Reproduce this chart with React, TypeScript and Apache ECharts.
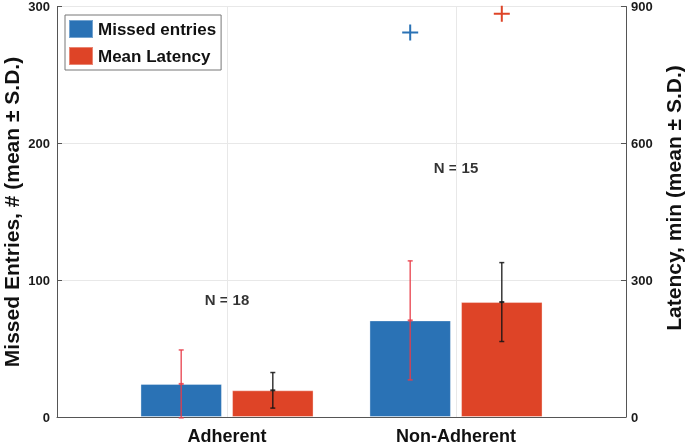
import React, { useEffect, useRef } from 'react';
import * as echarts from 'echarts';

// ---- data ----
const categories = ['Adherent', 'Non-Adherent'];
const missedMean = [24.2, 70.6];
const missedSD = [24.8, 43.5];
const latencyMean = [58.5, 252];
const latencySD = [39, 86.5];
const missedOutlier: (number | null)[] = [null, 281];
const latencyOutlier: (number | null)[] = [null, 884];
const groupN = [18, 15];
const nLabelHeight = [86, 182]; // in missed-entries units

const FONT = '"Liberation Sans", Arial, Helvetica, sans-serif';
const OFFSET = 0.2;
const BLUE = '#2a72b5';
const RED = '#de4427';

export default function App() {
  const ref = useRef<HTMLDivElement>(null);
  useEffect(() => {
    const chart = echarts.init(ref.current!, null, { renderer: 'svg' });
    const pos = (i: number, side: number) => i + 1 + side * OFFSET;

    const blueBars = missedMean.map((v, i) => [pos(i, -1), v]);
    const redBars = latencyMean.map((v, i) => [pos(i, 1), v]);
    const blueErr = missedMean.map((v, i) => [pos(i, -1), v, missedSD[i]]);
    const redErr = latencyMean.map((v, i) => [pos(i, 1), v, latencySD[i]]);
    const blueOut = missedOutlier
      .map((v, i) => (v == null ? null : [pos(i, -1), v]))
      .filter((d) => d) as number[][];
    const redOut = latencyOutlier
      .map((v, i) => (v == null ? null : [pos(i, 1), v]))
      .filter((d) => d) as number[][];
    const nLabels = groupN.map((n, i) => ({ value: [i + 1, nLabelHeight[i]], n }));

    const errRender = (color: string) => (params: any, api: any) => {
      const x = api.value(0);
      const m = api.value(1);
      const s = api.value(2);
      const top = api.coord([x, m + s]);
      const bot = api.coord([x, m - s]);
      const mid = api.coord([x, m]);
      const cap = 2.5;
      const style = { stroke: color, lineWidth: 1.5, fill: null };
      return {
        type: 'group',
        children: [
          { type: 'line', shape: { x1: top[0], y1: top[1], x2: bot[0], y2: bot[1] }, style },
          { type: 'line', shape: { x1: top[0] - cap, y1: top[1], x2: top[0] + cap, y2: top[1] }, style },
          { type: 'line', shape: { x1: bot[0] - cap, y1: bot[1], x2: bot[0] + cap, y2: bot[1] }, style },
          { type: 'line', shape: { x1: mid[0] - cap, y1: mid[1], x2: mid[0] + cap, y2: mid[1] }, style: { ...style, lineWidth: 2 } },
        ],
      };
    };

    const plus = 'path://M7,0H9V7H16V9H9V16H7V9H0V7H7Z';

    chart.setOption({
      animation: false,
      grid: { left: 57, right: 59, top: 6, bottom: 27, containLabel: false },
      legend: {
        data: ['Missed entries', 'Mean Latency'],
        orient: 'vertical',
        left: 65,
        top: 15,
        icon: 'rect',
        itemWidth: 24,
        itemHeight: 18,
        itemGap: 7,
        padding: [4, 5, 4, 3],
        borderColor: '#777',
        borderWidth: 1,
        backgroundColor: '#fff',
        textStyle: { fontFamily: FONT, fontWeight: 'bold', fontSize: 17, color: '#111' },
        selectedMode: false,
      },
      xAxis: {
        type: 'value',
        min: 0.2576,
        max: 2.7424,
        axisLine: { show: true, lineStyle: { color: '#555', width: 1 } },
        axisTick: { show: true, inside: true, length: 4, customValues: [1, 2], lineStyle: { color: '#555' } },
        axisLabel: {
          customValues: [1, 2],
          formatter: (v: number) => categories[Math.round(v) - 1] ?? '',
          fontFamily: FONT,
          fontWeight: 'bold',
          fontSize: 18,
          color: '#111',
          margin: 10,
        },
        splitLine: { show: false },
      },
      yAxis: [
        {
          type: 'value',
          min: 0,
          max: 300,
          interval: 100,
          position: 'left',
          axisLine: { show: true, lineStyle: { color: '#555', width: 1 } },
          axisTick: { show: true, inside: true, length: 5, lineStyle: { color: '#555' } },
          axisLabel: { fontFamily: FONT, fontWeight: 'bold', fontSize: 13, color: '#1a1a1a', margin: 7 },
          splitLine: { show: true, lineStyle: { color: '#e8e8e8', width: 1 } },
        },
        {
          type: 'value',
          min: 0,
          max: 900,
          interval: 300,
          position: 'right',
          axisLine: { show: true, lineStyle: { color: '#555', width: 1 } },
          axisTick: { show: true, inside: true, length: 5, lineStyle: { color: '#555' } },
          axisLabel: { fontFamily: FONT, fontWeight: 'bold', fontSize: 13, color: '#1a1a1a', margin: 5 },
          splitLine: { show: false },
        },
      ],
      graphic: [
        {
          type: 'text',
          x: 11,
          y: 212,
          rotation: Math.PI / 2,
          style: {
            text: 'Missed Entries, # (mean ± S.D.)',
            font: `bold 21px ${FONT}`,
            fill: '#111',
            align: 'center',
            verticalAlign: 'middle',
          },
        },
        {
          type: 'text',
          x: 673,
          y: 198,
          rotation: Math.PI / 2,
          style: {
            text: 'Latency, min (mean ± S.D.)',
            font: `bold 21px ${FONT}`,
            fill: '#111',
            align: 'center',
            verticalAlign: 'middle',
          },
        },
      ],
      series: [
        {
          name: 'vgrid',
          type: 'line',
          data: [],
          markLine: {
            silent: true,
            symbol: 'none',
            label: { show: false },
            lineStyle: { color: '#e8e8e8', width: 1, type: 'solid' },
            data: categories.map((c, i) => ({ xAxis: i + 1 })),
          },
          z: 0,
        },
        {
          name: 'Missed entries',
          type: 'bar',
          yAxisIndex: 0,
          data: blueBars,
          barWidth: 81.5,
          barGap: '-100%',
          itemStyle: { color: BLUE, borderColor: 'rgba(255,255,255,0.35)', borderWidth: 1 },
          z: 2,
        },
        {
          name: 'Mean Latency',
          type: 'bar',
          yAxisIndex: 1,
          data: redBars,
          barWidth: 81.5,
          barGap: '-100%',
          itemStyle: { color: RED, borderColor: 'rgba(255,255,255,0.35)', borderWidth: 1 },
          z: 2,
        },
        {
          name: 'missedErr',
          type: 'custom',
          yAxisIndex: 0,
          data: blueErr,
          renderItem: errRender('rgba(232,60,72,0.85)'),
          z: 5,
          silent: true,
        },
        {
          name: 'latencyErr',
          type: 'custom',
          yAxisIndex: 1,
          data: redErr,
          renderItem: errRender('rgba(20,20,20,0.85)'),
          z: 5,
          silent: true,
        },
        {
          name: 'missedOut',
          type: 'scatter',
          yAxisIndex: 0,
          data: blueOut,
          symbol: plus,
          symbolSize: 16,
          itemStyle: { color: BLUE, opacity: 1 },
          silent: true,
        },
        {
          name: 'latencyOut',
          type: 'scatter',
          yAxisIndex: 1,
          data: redOut,
          symbol: plus,
          symbolSize: 16,
          itemStyle: { color: RED, opacity: 1 },
          silent: true,
        },
        {
          name: 'nLabels',
          type: 'scatter',
          yAxisIndex: 0,
          data: nLabels,
          symbolSize: 0,
          silent: true,
          label: {
            show: true,
            position: 'inside',
            formatter: (p: any) => `N = ${p.data.n}`,
            fontFamily: FONT,
            fontWeight: 'bold',
            fontSize: 15,
            color: '#000',
            textBorderWidth: 0,
          },
        },
      ],
    });
    return () => chart.dispose();
  }, []);
  return <div ref={ref} style={{ position: 'fixed', left: 0, top: 0, width: 685, height: 445 }} />;
}
